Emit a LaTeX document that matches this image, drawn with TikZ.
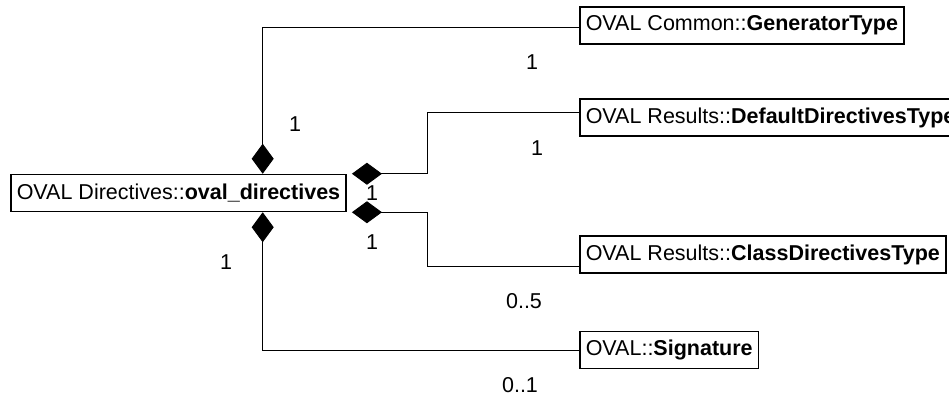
\documentclass[tikz,border=0pt]{standalone}
\usepackage{fontspec}
\setmainfont{Liberation Sans}
\usetikzlibrary{arrows.meta, calc}
\tikzset{
  % The 'classbox' style is for the UML class boxes with a thick black border
  classbox/.style={draw=black, line width=1.5pt, fill=white, minimum height=37pt, inner xsep=6pt, inner ysep=0pt, anchor=west},
  % The 'owns' style is a composition line with a filled diamond at the owner end
  owns/.style={draw=black, line width=0.9pt, {Diamond[length=30pt, width=22pt, fill=black]}-},
  % The 'sideowns' style is the same composition line with a lying diamond
  sideowns/.style={owns},
  % The 'mult' style is for the multiplicity labels
  mult/.style={anchor=center, text=black, inner sep=0pt}
}
\begin{document}
\begin{tikzpicture}[x=1pt, y=-1pt, font=\fontsize{21.5}{25}\selectfont]

  \useasboundingbox (0,0) rectangle (949,398);

  % The owning class on the left
  \node[classbox] at (10,193) (dir) {OVAL Directives::\textbf{oval\_directives}};

  % The owned classes on the right
  \node[classbox] at (579,25.5) (gen) {OVAL Common::\textbf{GeneratorType}};
  \node[classbox] at (579,117.5) (def) {OVAL Results::\textbf{DefaultDirectivesType}};
  \node[classbox] at (579,254.5) (cls) {OVAL Results::\textbf{ClassDirectivesType}};
  \node[classbox] at (579,350) (sig) {OVAL::\textbf{Signature}};

  % Compositions from the top and bottom of the owner
  \draw[owns] ($(dir.north west)!0.75!(dir.north east)$) |- ([yshift=-1.5pt]gen.west);
  \draw[owns] ($(dir.south west)!0.75!(dir.south east)$) |- (sig.west);

  % Compositions from the right side of the owner
  \draw[sideowns] ([xshift=5pt]dir.north east) -- ++(76,0) |- ([yshift=5.5pt]def.west);
  \draw[sideowns] ([xshift=5pt]dir.south east) -- ++(76,0) |- ([yshift=-11.5pt]cls.west);

  % Multiplicities
  \node[mult] at (532,62) (m-gen) {1};
  \node[mult] at (295,124) (m-top) {1};
  \node[mult] at (537,148) (m-def) {1};
  \node[mult] at (372,193) (m-right1) {1};
  \node[mult] at (372,242) (m-right2) {1};
  \node[mult] at (226,262) (m-bottom) {1};
  \node[mult] at (524,301) (m-cls) {0..5};
  \node[mult] at (520,385) (m-sig) {0..1};

\end{tikzpicture}
\end{document}
